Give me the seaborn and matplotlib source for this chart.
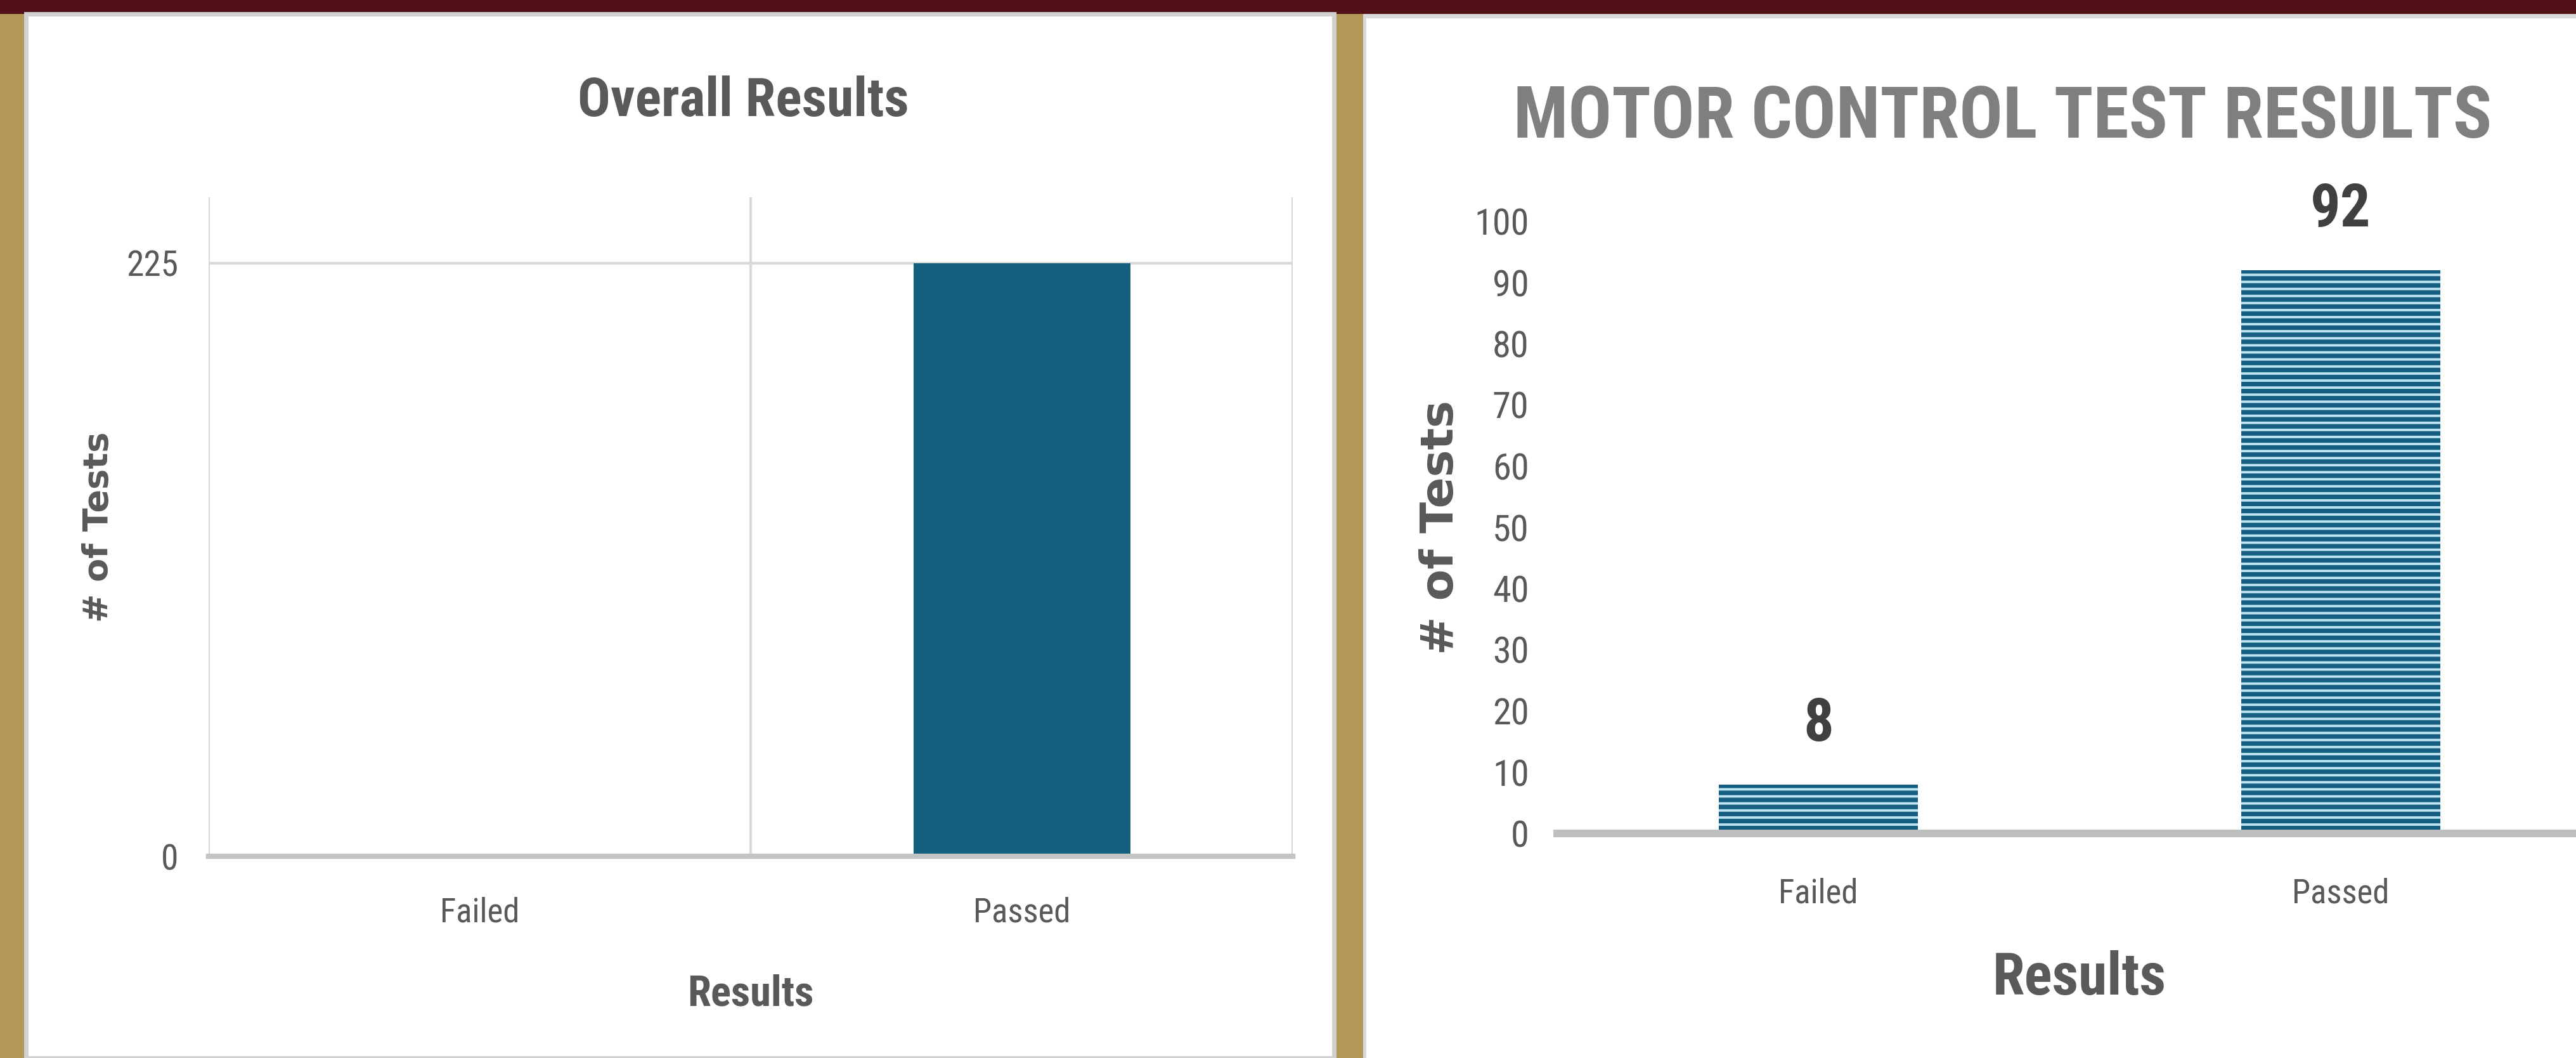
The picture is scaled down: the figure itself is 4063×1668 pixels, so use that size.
import matplotlib
matplotlib.use('Agg')
import matplotlib.pyplot as plt
import seaborn as sns
from matplotlib.patches import Rectangle

# data
categories = ['Failed', 'Passed']
overall_counts = [0, 225]
motor_counts = [8, 92]
overall_yticks = [0, 225]
motor_yticks = list(range(0, 101, 10))

sns.set_theme(style='white')
NARROW = ['Roboto Condensed', 'Liberation Sans Narrow', 'Roboto', 'DejaVu Sans']
WIDE = ['DejaVu Sans']
plt.rcParams['font.family'] = NARROW
plt.rcParams['font.stretch'] = 'condensed'
plt.rcParams['hatch.color'] = '#165E81'
plt.rcParams['hatch.linewidth'] = 2.6

W, H, DPI = 4063, 1668, 200
GOLD = '#B3985A'
MAROON = '#521117'
GREY_TXT = '#595959'


def fx(px):
    return px / W


def fy(px):
    # pixel row from top -> figure fraction from bottom
    return 1 - px / H


fig = plt.figure(figsize=(W / DPI, H / DPI), dpi=DPI, facecolor=GOLD)

# page decoration: maroon header, white cards (behind the axes)
deco = dict(transform=fig.transFigure, zorder=-5)
fig.patches.append(Rectangle((0, fy(22)), 1, 22 / H, facecolor=MAROON, edgecolor='none', **deco))
fig.patches.append(Rectangle((fx(41), 0), fx(2104 - 41), fy(22), facecolor='white',
                             edgecolor='#D0D0D0', lw=2.5, **deco))
fig.patches.append(Rectangle((fx(2150), 0), 1 - fx(2150), fy(22), facecolor='#D9D9D9',
                             edgecolor='none', **deco))
fig.patches.append(Rectangle((fx(2155), 0), 1 - fx(2155), fy(29), facecolor='white',
                             edgecolor='none', **deco))

# ---- left chart: Overall Results ----
ax1 = fig.add_axes([fx(329), fy(1350), fx(2039 - 329), (1350 - 311) / H])
ax1.set_facecolor('none')
sns.barplot(x=categories, y=overall_counts, ax=ax1, color='#16607F',
            width=0.4, saturation=1, linewidth=0)
ax1.set_xlim(-0.5, 1.5)
ax1.set_ylim(0, 250)
ax1.set_yticks(overall_yticks)
ax1.set_xticks([-0.5, 0.5, 1.5], minor=True)
ax1.set_axisbelow(True)
ax1.grid(axis='x', which='minor', color='#D9D9D9', lw=1.5)
ax1.grid(axis='y', which='major', color='#D9D9D9', lw=1.5)
ax1.grid(axis='x', which='major', visible=False)
for s in ['top', 'right', 'left']:
    ax1.spines[s].set_visible(False)
ax1.spines['bottom'].set_color('#C4C4C4')
ax1.spines['bottom'].set_linewidth(3.0)
ax1.tick_params(which='both', length=0)
ax1.tick_params(axis='y', labelsize=20, labelcolor=GREY_TXT, pad=17)
ax1.tick_params(axis='x', labelsize=19, labelcolor=GREY_TXT, pad=23)
ax1.set_xlabel('Results', fontsize=24, fontweight='bold', color=GREY_TXT, va='baseline')
ax1.xaxis.set_label_coords(0.5, (1350 - 1585) / 1039)
ax1.set_ylabel('# of Tests', fontsize=19.5, fontweight='bold', color=GREY_TXT,
               family=WIDE, fontstretch='normal', va='center')
ax1.yaxis.set_label_coords((155 - 329) / 1710, 0.5)
fig.text(fx(1172), fy(183), 'Overall Results', ha='center', va='baseline',
         fontsize=31, fontweight='bold', color=GREY_TXT)

# ---- right chart: Motor Control Test Results ----
ax2 = fig.add_axes([fx(2456), fy(1314), (4104 - 2456) / W, (1314 - 349) / H])
ax2.set_facecolor('none')
sns.barplot(x=categories, y=motor_counts, ax=ax2, color='#BEE3F3', saturation=1,
            width=0.38, hatch='---', edgecolor='#165E81', linewidth=0)
ax2.set_xlim(-0.5, 1.5)
ax2.set_ylim(0, 100)
ax2.set_yticks(motor_yticks)
for s in ['top', 'right', 'left']:
    ax2.spines[s].set_visible(False)
ax2.spines['bottom'].set_color('#BFBFBF')
ax2.spines['bottom'].set_linewidth(4.3)
ax2.tick_params(which='both', length=0)
ax2.tick_params(axis='y', labelsize=21, labelcolor=GREY_TXT, pad=16)
ax2.tick_params(axis='x', labelsize=19, labelcolor=GREY_TXT, pad=25)
ax2.set_xlabel('Results', fontsize=33, fontweight='bold', color=GREY_TXT, va='baseline')
ax2.xaxis.set_label_coords(0.5, (1314 - 1568) / 965)
ax2.set_ylabel('# of Tests', fontsize=26, fontweight='bold', color=GREY_TXT,
               family=WIDE, fontstretch='normal', va='center')
ax2.yaxis.set_label_coords((2272 - 2456) / 1648, 0.5)
for container in ax2.containers:
    ax2.bar_label(container, fontsize=34, fontweight='bold', color='#404040', padding=18)
fig.text(fx(3159), fy(217), 'MOTOR CONTROL TEST RESULTS', ha='center', va='baseline',
         fontsize=41, fontweight='bold', color='#7F7F7F')

fig.savefig('out.png', dpi=DPI, facecolor=GOLD)
